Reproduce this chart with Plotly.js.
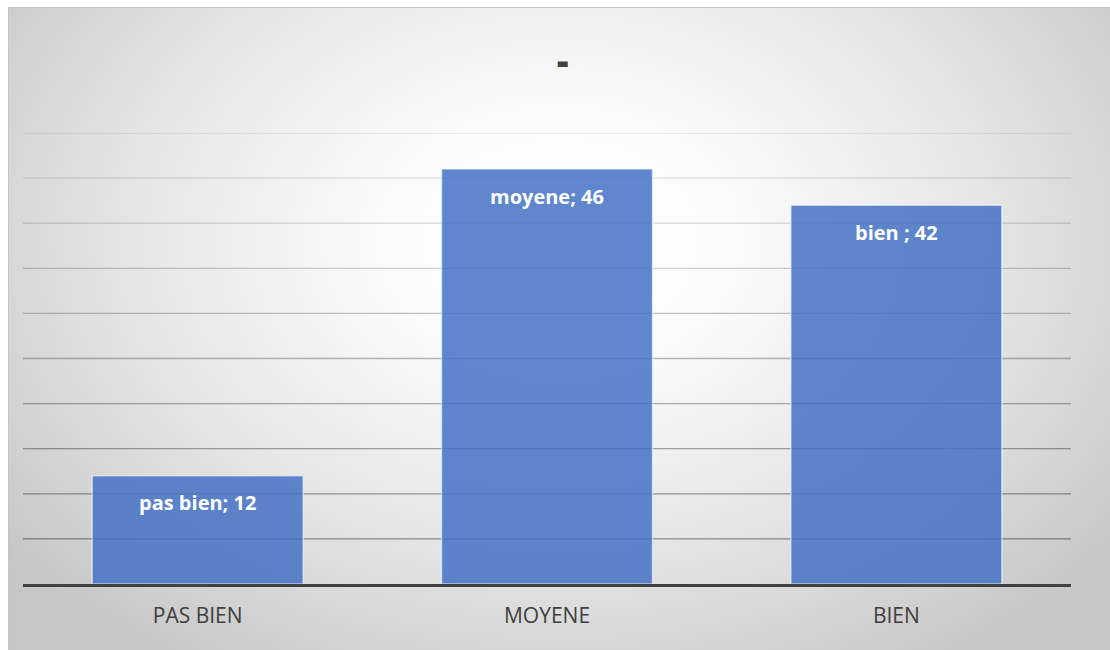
<!DOCTYPE html>
<html>
<head>
<meta charset="utf-8">
<script src="https://cdn.plot.ly/plotly-3.0.1.min.js"></script>
<style>
  html, body { margin: 0; padding: 0; background: #ffffff; }
  #frame {
    position: absolute; left: 8px; top: 7px; width: 1102px; height: 643px;
    box-sizing: border-box; border-top: 1px solid #c4c4c4; border-left: 1px solid #c4c4c4;
    background: radial-gradient(ellipse 64% 80% at 50% 36%, #ffffff 0%, #fbfbfb 25%, #e6e6e6 60%, #d2d2d2 85%, #c6c6c6 100%);
  }
  #chart { position: absolute; left: 0; top: 0; width: 1110px; height: 650px; }
</style>
</head>
<body>
<div id="frame"></div>
<div id="chart"></div>
<script>
// Categories on the x axis and their counts
const categories = ["PAS BIEN", "MOYENE", "BIEN"];
const values = [12, 46, 42];
// Names shown inside each bar, next to the value
const labelNames = ["pas bien", "moyene", "bien "];

const yMax = 50;
const yStep = 5;

const trace = {
  type: "bar",
  x: categories,
  y: values,
  marker: {
    color: "rgba(68,114,196,0.85)",
    line: { color: "rgba(255,255,255,0.55)", width: 1.5 }
  },
  hoverinfo: "none"
};

// Gridlines: lighter toward the top, darker toward the baseline
const shapes = [];
const levels = yMax / yStep;
for (let i = 1; i <= levels; i++) {
  const v = i * yStep;
  const alpha = 0.42 - (i - 1) * (0.34 / (levels - 1));
  shapes.push({
    type: "line", xref: "paper", yref: "y",
    x0: 0, x1: 1, y0: v, y1: v,
    line: { color: "rgba(0,0,0," + alpha.toFixed(3) + ")", width: 1.3 },
    layer: "below"
  });
}

// Value labels near the top of each bar
const annotations = categories.map((c, i) => ({
  x: c, y: values[i], xref: "x", yref: "y",
  text: labelNames[i] + "; " + values[i],
  showarrow: false, yanchor: "middle", yshift: -27,
  font: { family: "Open Sans, sans-serif", size: 20, color: "#ffffff", weight: 700 }
}));

const layout = {
  width: 1110, height: 650,
  margin: { l: 23, r: 39, t: 133, b: 66 },
  paper_bgcolor: "rgba(0,0,0,0)",
  plot_bgcolor: "rgba(0,0,0,0)",
  showlegend: false,
  bargap: 0.396,
  title: {
    text: "-", xref: "container", yref: "container",
    x: 0.507, y: 0.905, xanchor: "center", yanchor: "middle",
    font: { family: "Open Sans, sans-serif", size: 36, color: "#404040", weight: 800 }
  },
  xaxis: {
    type: "category",
    showgrid: false, zeroline: false,
    showline: true, linecolor: "#404040", linewidth: 3,
    ticks: "", ticklabelstandoff: 11,
    tickfont: { family: "Open Sans, sans-serif", size: 21, color: "#404040" }
  },
  yaxis: {
    range: [0, yMax], dtick: yStep,
    showgrid: false, zeroline: false, showticklabels: false, ticks: ""
  },
  shapes: shapes,
  annotations: annotations
};

Plotly.newPlot("chart", [trace], layout, { displayModeBar: false, staticPlot: true });
</script>
</body>
</html>
